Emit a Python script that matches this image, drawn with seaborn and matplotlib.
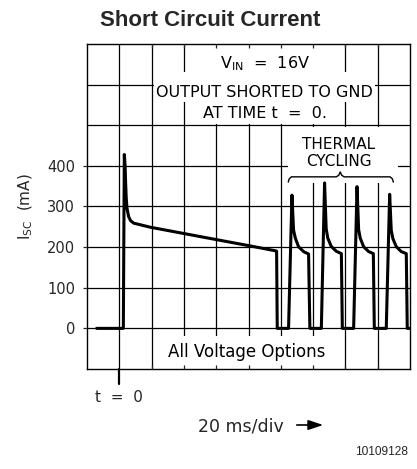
import numpy as np
import pandas as pd
import seaborn as sns
import matplotlib.pyplot as plt
from matplotlib.patches import Rectangle, FancyArrowPatch

# Trace: time in ms (20 ms/div), current in mA
surge_t = [-14, 2.5, 3.1, 3.6, 3.9, 4.3, 4.8, 5.8, 7.0, 8.9, 19.2, 50.0, 81.0, 96.6, 97.4, 97.8]
surge_i = [0, 0, 428, 400, 360, 320, 295, 275, 265, 259, 249, 226, 203, 191, 190, 0]

# thermal cycling pulses
cycle_t = [104.8, 106.9, 107.9, 109.0, 111.0, 114.1, 117.2, 118.0,
           125.1, 127.1, 128.1, 129.1, 131.2, 134.3, 137.5, 138.1,
           145.1, 147.2, 148.2, 149.2, 151.3, 154.4, 157.3, 157.9,
           165.3, 167.4, 168.4, 169.4, 171.5, 174.6, 177.7, 178.3, 180.0]
cycle_i = [0, 328, 242, 222, 201, 189, 183, 0,
           0, 358, 245, 222, 202, 190, 184, 0,
           0, 349, 243, 222, 201, 189, 184, 0,
           0, 330, 241, 221, 201, 189, 184, 0, 0]

y_ticks = [0, 100, 200, 300, 400]
grid_x = [0, 20, 40, 60, 80, 100, 120, 140, 160]
grid_y = [0, 100, 200, 300, 400, 500, 600]

df = pd.DataFrame({"t": surge_t + cycle_t, "i": surge_i + cycle_i})

sns.set_style("white")
plt.rcParams["font.family"] = ["DejaVu Sans"]
plt.rcParams["mathtext.default"] = "regular"

fig = plt.figure(figsize=(4.17, 4.69), dpi=100)
ax = fig.add_axes([87 / 417, 100 / 469, 323 / 417, 325 / 469])
ax.set_xlim(-20, 180)
ax.set_ylim(-100, 700)

# grid drawn by hand so the white label boxes can sit over it, under the ticks
for gx in grid_x:
    ax.axvline(gx, color="black", lw=0.9, zorder=1)
for gy in grid_y:
    ax.axhline(gy, color="black", lw=0.9, zorder=1)

# white patches behind the annotations (x0, x1, y0, y1)
masks = [(42, 138, 628, 700), (21.5, 158.5, 557, 630), (42, 138, 503, 557),
         (22, 138, -100, -19), (104.6, 172.8, 357, 495)]
for x0, x1, y0, y1 in masks:
    ax.add_patch(Rectangle((x0, y0), x1 - x0, y1 - y0, facecolor="white",
                           edgecolor="none", zorder=1.5))

sns.lineplot(data=df, x="t", y="i", sort=False, estimator=None,
             color="black", lw=2.2, ax=ax, zorder=2.2)

txt = dict(color="black", zorder=2, ha="center", va="baseline")
ax.text(90, 641, "V$_{IN}$  =  16V", fontsize=11.5, **txt)
ax.text(90, 570, "OUTPUT SHORTED TO GND", fontsize=11.5, **txt)
ax.text(90, 518, "AT TIME t  =  0.", fontsize=11.5, **txt)
ax.text(79, -71, "All Voltage Options", fontsize=12, **txt)
ax.text(136, 441, "THERMAL", fontsize=11, **txt)
ax.text(136, 400, "CYCLING", fontsize=11, **txt)

# brace over the pulses
brace_x = [104.6, 105.2, 106.6, 134.4, 135.9, 136.8, 137.7, 139.2, 167.7, 169.1, 169.7]
brace_y = [360, 368, 373, 373, 377, 385, 377, 373, 373, 368, 360]
ax.plot(brace_x, brace_y, color="black", lw=1.0, zorder=2)

# t = 0 marker under the axis
ax.plot([0, 0], [-100, -137], color="black", lw=1.6, clip_on=False)
ax.text(0, -181, "t  =  0", fontsize=11, ha="center", va="baseline", clip_on=False)

ax.set_axisbelow(False)
ax.set_xticks(grid_x[1:])
ax.set_xticklabels([])
ax.tick_params(axis="x", direction="in", length=3, width=0.9, top=True, bottom=True)
ax.set_yticks(y_ticks)
ax.set_yticklabels([str(v) for v in y_ticks])
ax.tick_params(axis="y", direction="out", length=3, width=0.9, pad=5.5,
               labelsize=10.5, left=True)
for s in ax.spines.values():
    s.set_color("black")
    s.set_linewidth(1.0)
ax.set_xlabel("")
ax.set_ylabel("I$_{SC}$  (mA)", fontsize=11, labelpad=9)

fig.text(210 / 417, 1 - 26 / 469, "Short Circuit Current", family="Liberation Sans",
         weight="bold", fontsize=16, ha="center", va="baseline")
fig.text(198 / 417, 1 - 431.7 / 469, "20 ms/div", fontsize=12.5, ha="left", va="baseline")
fig.patches.append(FancyArrowPatch(
    (294 / 417, 1 - 425 / 469), (326 / 417, 1 - 425 / 469), transform=fig.transFigure,
    arrowstyle="-|>,head_length=0.9,head_width=0.3", mutation_scale=10,
    color="black", lw=1.2))
fig.text(408 / 417, 1 - 455 / 469, "10109128", family="Liberation Sans",
         fontsize=8.6, ha="right", va="baseline")

fig.savefig("out.png", dpi=100)
